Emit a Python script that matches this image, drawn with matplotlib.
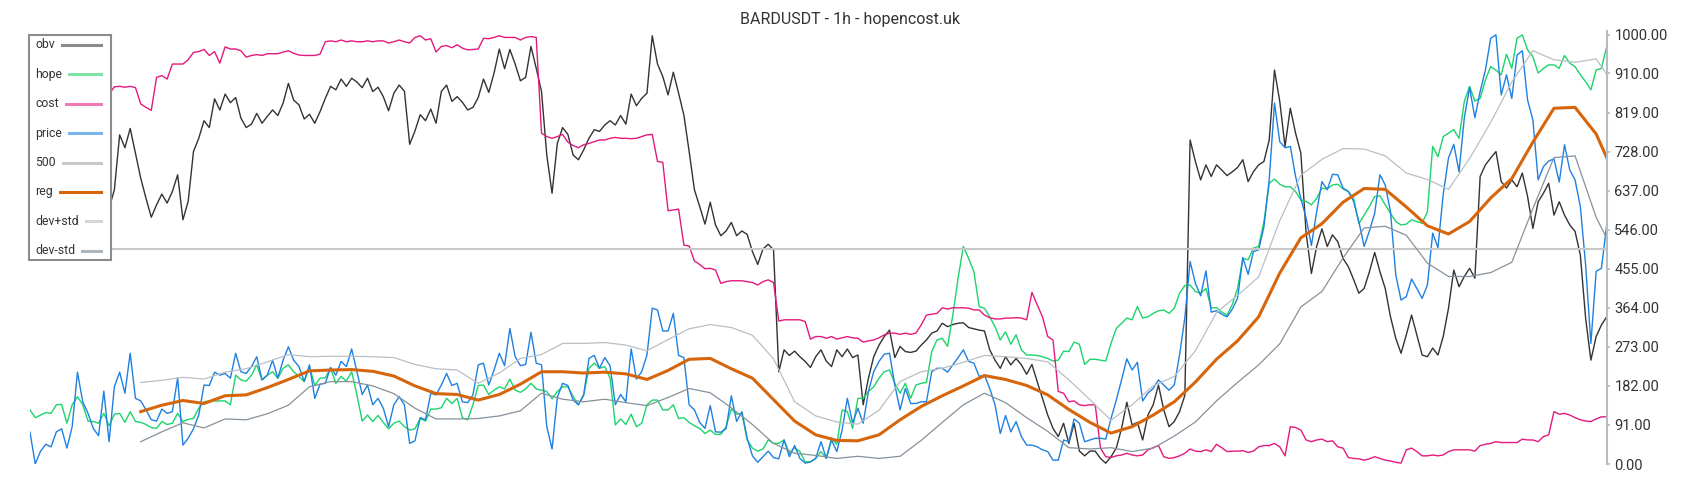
import numpy as np
import matplotlib.pyplot as plt
from matplotlib.lines import Line2D
from matplotlib.patches import Rectangle

plt.rcParams['font.family'] = ['Roboto', 'DejaVu Sans']

W, H = 1700, 500
TITLE = 'BARDUSDT - 1h - hopencost.uk'
nan = float('nan')

# normalised series, one value per hourly candle (0..299)
price = [
    74, 0, 30, 46, 40, 75, 82, 37, 87, 214, 145, 118, 83, 66, 170, 52, 180, 214, 165, 258,
    153, 147, 126, 103, 100, 128, 118, 122, 201, 44, 60, 82, 114, 184, 183, 214, 207, 211, 200, 258,
    215, 211, 227, 250, 196, 207, 242, 200, 242, 273, 242, 227, 193, 231, 153, 186, 188, 225, 207, 239,
    227, 268, 215, 162, 184, 138, 153, 130, 87, 138, 157, 138, 48, 54, 108, 103, 165, 161, 184, 211,
    183, 188, 145, 143, 161, 231, 235, 184, 219, 258, 229, 316, 250, 229, 232, 307, 235, 231, 87, 35,
    155, 188, 183, 149, 138, 161, 246, 253, 223, 248, 229, 138, 162, 145, 268, 198, 215, 254, 363, 359,
    310, 310, 351, 253, 248, 138, 126, 97, 83, 136, 75, 74, 82, 159, 99, 122, 60, 19, 4, 17,
    30, 15, 12, 56, 17, 43, 13, 2, 5, 13, 52, 13, 56, 29, 79, 153, 95, 130, 95, 169,
    215, 239, 256, 258, 184, 126, 176, 141, 141, 145, 145, 215, 223, 223, 214, 231, 248, 266, 239, 235,
    204, 207, 176, 138, 71, 113, 75, 99, 64, 44, 44, 40, 33, 29, 9, 9, 56, 52, 105, 95,
    52, 56, 60, 60, 58, 106, 149, 196, 245, 219, 237, 147, 165, 176, 196, 184, 172, 184, 254, 341,
    472, 421, 392, 450, 354, 357, 349, 343, 361, 386, 481, 442, 495, 499, 553, 662, 841, 751, 737, 740,
    670, 619, 573, 509, 588, 658, 639, 675, 674, 643, 635, 612, 565, 507, 543, 584, 674, 650, 588, 441,
    382, 390, 431, 409, 386, 417, 538, 504, 629, 713, 745, 681, 807, 877, 807, 868, 918, 992, 1000, 860,
    907, 852, 953, 963, 848, 802, 662, 693, 706, 711, 657, 744, 685, 662, 600, 464, 281, 449, 456, 557,
]

hope = [
    126, 108, 114, 120, 118, 138, 139, 95, 138, 157, 138, 100, 99, 95, 118, 89, 116, 118, 97, 122,
    99, 97, 92, 85, 83, 99, 92, 95, 118, 99, 104, 106, 130, 145, 147, 147, 147, 147, 138, 207,
    196, 193, 207, 231, 196, 207, 215, 200, 223, 231, 215, 204, 192, 227, 183, 200, 201, 223, 188, 204,
    193, 215, 161, 100, 114, 99, 113, 97, 82, 95, 100, 87, 79, 82, 106, 100, 128, 128, 131, 153,
    141, 153, 108, 103, 138, 183, 184, 162, 172, 180, 175, 198, 172, 167, 175, 188, 175, 172, 169, 152,
    169, 180, 180, 157, 138, 161, 223, 235, 223, 227, 200, 91, 105, 92, 116, 87, 95, 138, 149, 149,
    126, 126, 138, 106, 108, 97, 89, 83, 71, 79, 69, 69, 87, 128, 116, 118, 56, 37, 30, 35,
    56, 48, 48, 56, 25, 38, 29, 5, 5, 13, 29, 13, 60, 46, 126, 122, 83, 153, 153, 169,
    180, 200, 215, 219, 188, 165, 188, 153, 184, 188, 190, 262, 289, 293, 274, 347, 433, 507, 479, 448,
    367, 363, 343, 320, 289, 308, 279, 301, 266, 254, 254, 253, 250, 246, 240, 242, 263, 262, 284, 279,
    232, 244, 244, 242, 240, 281, 316, 328, 340, 336, 367, 340, 343, 351, 357, 359, 351, 363, 398, 416,
    417, 402, 398, 409, 364, 364, 354, 347, 372, 409, 479, 476, 503, 507, 565, 654, 664, 652, 646, 646,
    635, 615, 612, 604, 619, 643, 641, 650, 652, 641, 635, 619, 560, 580, 600, 623, 625, 604, 584, 565,
    557, 559, 569, 565, 561, 588, 740, 716, 763, 771, 779, 759, 845, 880, 846, 852, 895, 926, 918, 907,
    955, 922, 992, 1000, 965, 949, 911, 922, 930, 930, 922, 952, 934, 926, 907, 891, 872, 918, 922, 973,
]

# first 15 candles sit under the legend box
obv = [nan] * 15 + [
    596, 639, 767, 737, 782,
    724, 666, 619, 575, 604, 629, 608, 635, 674, 569, 612, 728, 759, 800, 784, 851, 825, 862, 842, 854,
    806, 784, 792, 817, 794, 810, 825, 812, 841, 887, 848, 837, 804, 815, 794, 821, 852, 880, 872, 897,
    880, 899, 890, 877, 899, 868, 878, 856, 823, 864, 883, 869, 745, 776, 814, 800, 827, 794, 868, 883,
    845, 856, 843, 825, 831, 854, 897, 866, 911, 967, 921, 966, 932, 893, 901, 973, 922, 868, 720, 631,
    747, 784, 768, 720, 709, 732, 759, 779, 775, 790, 800, 790, 812, 792, 862, 835, 852, 864, 998, 932,
    903, 860, 913, 864, 813, 728, 639, 600, 559, 610, 557, 532, 543, 563, 532, 543, 535, 495, 465, 501,
    512, 499, 215, 266, 253, 263, 250, 239, 225, 250, 266, 240, 227, 266, 250, 268, 248, 254, 138, 200,
    250, 277, 297, 312, 248, 274, 262, 260, 263, 277, 289, 305, 310, 328, 320, 325, 328, 329, 318, 315,
    312, 310, 266, 242, 223, 250, 231, 246, 231, 209, 232, 192, 153, 114, 83, 64, 95, 48, 95, 30,
    19, 30, 30, 13, 2, 17, 37, 83, 144, 91, 97, 56, 114, 138, 184, 126, 87, 99, 122, 160,
    755, 705, 662, 697, 670, 697, 685, 672, 681, 691, 709, 658, 681, 697, 705, 755, 918, 845, 740, 829,
    771, 724, 538, 444, 507, 548, 507, 534, 518, 479, 460, 430, 398, 409, 448, 493, 448, 409, 343, 293,
    258, 301, 347, 301, 254, 250, 270, 254, 297, 363, 452, 413, 437, 456, 433, 670, 697, 713, 728, 658,
    643, 662, 646, 678, 623, 549, 611, 631, 654, 580, 611, 580, 557, 542, 487, 340, 242, 297, 324, 343,
]

cost = [nan] * 15 + [
    862, 879, 880, 878, 880,
    877, 839, 831, 824, 901, 905, 897, 932, 932, 932, 942, 959, 961, 966, 952, 961, 934, 972, 967, 967,
    963, 948, 952, 954, 952, 956, 956, 956, 960, 963, 957, 953, 952, 952, 952, 955, 984, 986, 984, 988,
    984, 986, 984, 984, 986, 984, 986, 986, 981, 984, 988, 984, 981, 994, 998, 988, 991, 960, 973, 975,
    970, 977, 969, 965, 966, 967, 992, 991, 994, 998, 994, 994, 994, 988, 994, 996, 994, 771, 763, 759,
    763, 768, 750, 742, 737, 744, 747, 751, 755, 755, 759, 761, 759, 759, 758, 759, 763, 767, 768, 705,
    703, 590, 592, 594, 510, 508, 473, 465, 455, 456, 452, 421, 425, 427, 427, 427, 425, 423, 417, 425,
    429, 423, 333, 336, 336, 336, 336, 332, 291, 297, 297, 293, 297, 291, 294, 297, 294, 293, 284, 287,
    289, 294, 301, 305, 305, 302, 305, 302, 305, 324, 347, 349, 351, 364, 361, 364, 364, 364, 363, 359,
    359, 347, 341, 338, 338, 340, 340, 341, 340, 336, 400, 371, 343, 297, 289, 169, 165, 145, 147, 138,
    136, 138, 138, 37, 17, 15, 19, 21, 25, 21, 19, 21, 33, 38, 43, 17, 13, 15, 19, 25,
    35, 30, 29, 33, 29, 46, 38, 29, 30, 30, 31, 27, 30, 40, 43, 43, 48, 40, 19, 87,
    85, 79, 56, 52, 56, 58, 52, 54, 40, 37, 15, 13, 12, 9, 12, 17, 13, 9, 7, 4,
    2, 33, 37, 29, 19, 19, 21, 19, 21, 29, 33, 33, 33, 33, 30, 43, 46, 48, 52, 50,
    50, 50, 50, 58, 56, 56, 52, 64, 68, 122, 116, 118, 114, 108, 103, 100, 99, 105, 110, 110,
]

ref_level = 500

# regression line and its bands, read every 4 candles from candle 21
band_t = list(range(21, 298, 4)) + [299]
reg = [
    122, 137, 148, 141, 159, 161, 178, 197, 217, 219, 220, 216, 205, 182, 164, 162, 149, 162,
    186, 215, 215, 212, 214, 210, 197, 218, 244, 246, 222, 200, 150, 100, 68, 55, 54, 68,
    103, 134, 159, 182, 206, 197, 183, 161, 127, 97, 72, 87, 114, 145, 191, 244, 287, 343,
    445, 527, 560, 610, 642, 640, 599, 555, 536, 565, 620, 665, 750, 829, 831, 769, 714,
]
dev_plus = [
    190, 195, 202, 198, 214, 222, 238, 255, 250, 251, 251, 250, 248, 232, 222, 219, 188, 212,
    246, 255, 281, 281, 283, 277, 264, 290, 315, 325, 318, 300, 245, 145, 112, 98, 93, 125,
    192, 215, 223, 237, 253, 250, 246, 238, 196, 150, 102, 138, 182, 204, 264, 353, 393, 436,
    567, 673, 710, 735, 734, 718, 678, 663, 640, 712, 796, 890, 963, 942, 936, 944, 908,
]
dev_minus = [
    52, 75, 96, 84, 105, 103, 117, 137, 180, 192, 192, 182, 164, 130, 105, 105, 106, 112,
    124, 165, 151, 145, 151, 143, 136, 155, 176, 166, 131, 92, 48, 25, 20, 13, 18, 13,
    18, 55, 97, 138, 165, 143, 108, 76, 38, 35, 38, 29, 37, 65, 98, 147, 190, 231,
    280, 366, 402, 480, 550, 554, 533, 468, 437, 437, 446, 470, 595, 714, 718, 575, 526,
]

y_ticks = [0, 91, 182, 273, 364, 455, 546, 637, 728, 819, 910, 1000]

series_names = ['obv', 'hope', 'cost', 'price', '500', 'reg', 'dev+std', 'dev-std']
line_colors = ['#333333', '#1bd46c', '#e5197d', '#1f80e0', '#c8c8c8', '#d6650c', '#b9bfc5', '#86919b']
key_colors = ['#8a8a8a', '#7fe3a6', '#ef79b3', '#7bb6ea', '#c9c9c9', '#d4650c', '#d3d7db', '#aeb6bd']

fig = plt.figure(figsize=(W / 100, H / 100), dpi=100)
ax = fig.add_axes([30 / W, 36 / H, (1606.7 - 30) / W, (464 - 31) / H])

t = np.arange(len(price))
ax.plot(t, obv, color=line_colors[0], lw=1.0)
ax.plot(t, hope, color=line_colors[1], lw=1.0)
ax.plot(t, cost, color=line_colors[2], lw=1.0)
ax.plot(t, price, color=line_colors[3], lw=1.0)
ax.axhline(ref_level, color=line_colors[4], lw=1.5)
ax.plot(band_t, reg, color=line_colors[5], lw=2.2)
ax.plot(band_t, dev_plus, color=line_colors[6], lw=0.9)
ax.plot(band_t, dev_minus, color=line_colors[7], lw=0.9)

ax.set_xlim(0, len(price) - 1)
ax.set_ylim(0, 1009)
ax.set_xticks([])
ax.yaxis.tick_right()
ax.set_yticks(y_ticks)
ax.set_yticklabels([f'{v:.2f}' for v in y_ticks])
ax.tick_params(axis='y', direction='out', length=2.5, width=1.2, color='#b4bcc4',
               labelcolor='#333333', labelsize=10.5, pad=3)
for side in ['left', 'top', 'bottom']:
    ax.spines[side].set_visible(False)
ax.spines['right'].set_color('#b4bcc4')
ax.spines['right'].set_linewidth(1.5)

fig.text(0.5, 1 - 19.5 / H, TITLE, ha='center', va='center', fontsize=11.5, color='#333333')

# legend box drawn by hand: text on the left, key line runs to the right edge
fig.add_artist(Rectangle((29 / W, 1 - 260 / H), 82 / W, 225 / H, transform=fig.transFigure,
                         facecolor='white', edgecolor='none', zorder=5))
for k, (name, col) in enumerate(zip(series_names, key_colors)):
    y = 1 - (45 + 29.4 * k) / H
    fig.add_artist(Line2D([40 / W, 101 / W], [y, y], transform=fig.transFigure,
                          color=col, lw=2.2, zorder=6))
    fig.text(35 / W, y, name, ha='left', va='center', fontsize=8.8, color='#333333', zorder=7,
             bbox=dict(facecolor='white', edgecolor='none', pad=4.5))
fig.add_artist(Rectangle((29 / W, 1 - 260 / H), 82 / W, 225 / H, transform=fig.transFigure,
                         facecolor='none', edgecolor='#8c8c8c', lw=1.5, zorder=8))

fig.savefig('out.png', dpi=100)
